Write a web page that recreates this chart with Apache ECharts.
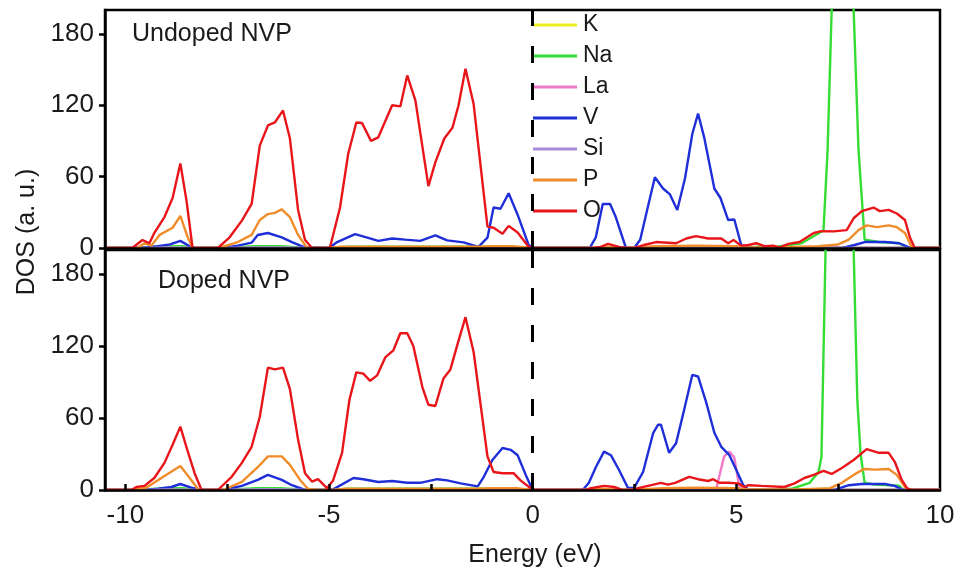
<!DOCTYPE html>
<html>
<head>
<meta charset="utf-8">
<script src="https://cdn.jsdelivr.net/npm/echarts@6/dist/echarts.min.js"></script>
<style>
  html, body { margin: 0; padding: 0; background: #fff; }
  #chart { width: 958px; height: 580px; }
</style>
</head>
<body>
<div id="chart"></div>
<script>
// Projected density of states, energy (eV) vs DOS (a. u.), two stacked panels.
const elements = ['K', 'Na', 'La', 'V', 'Si', 'P', 'O'];
const xTickValues = [-10, -7.5, -5, -2.5, 0, 2.5, 5, 7.5];
const xLabelValues = [-10, -5, 0, 5, 10];
const yLabelValues = [0, 60, 120, 180];

// ---- Undoped NVP ----
const undopedK = [[-10.5,0],[-9.6,0],[-9.0,0.3],[-8.3,0],[-7.6,0],[-6.5,0.4],[-5.5,0],[-5.0,0],[-3.0,0.3],[0,0],[10,0]];
const undopedNa = [[-10.5,0],[-9.8,0],[-9.3,1],[-8.6,1.5],[-8.3,0],[-7.7,0],[-6.8,1.5],[-6.2,1.5],[-5.5,0],[-5,0],[-4.5,1],[-1.5,1],[-0.5,0.5],[0,0],[5.3,0],[5.6,1.5],[6.0,1],[6.6,4],[7.0,12],[7.14,15],[7.24,82],[7.34,200],[7.45,330],[7.75,330],[7.88,200],[8.0,82],[8.15,7],[8.5,5],[9.0,4],[9.2,0],[10,0]];
const undopedLa = [[-10.5,0],[10,0]];
const undopedV = [[-10.5,0],[-9.6,0],[-9.2,1.5],[-8.9,3],[-8.65,6],[-8.4,1],[-8.3,0],[-7.6,0],[-7.24,2],[-6.9,4.5],[-6.75,10.9],[-6.5,12.6],[-6.16,9],[-5.91,5],[-5.6,0.5],[-5.0,0],[-4.8,5],[-4.36,11.7],[-4.06,8.7],[-3.79,6],[-3.45,8],[-3.13,7],[-2.76,6],[-2.39,10.6],[-2.1,6.4],[-1.7,4.7],[-1.33,1],[-1.11,8.7],[-0.96,34],[-0.79,33],[-0.59,46],[-0.37,28],[-0.1,2.5],[0,0],[1.4,0],[1.55,9],[1.72,37],[1.9,37],[2.04,26],[2.29,0],[2.49,0],[2.64,7],[2.81,32],[3.0,59.5],[3.2,50],[3.37,45],[3.55,32],[3.74,58.6],[3.92,96],[4.06,113],[4.21,93],[4.46,50],[4.61,42],[4.8,23.5],[4.95,24],[5.12,2.5],[5.3,0],[7.6,0],[7.9,2.5],[8.15,5],[8.65,5],[9.0,4],[9.24,0.5],[9.35,0],[10,0]];
const undopedSi = [[-10.5,0],[-9.5,0],[-9.0,0.4],[-8.3,0],[-7.6,0],[-6.5,0.5],[-5.5,0],[-5.0,0],[-3.0,0.4],[0,0],[10,0]];
const undopedP = [[-10.5,0],[-9.7,0],[-9.53,4],[-9.36,2],[-9.16,11],[-8.84,17],[-8.65,27],[-8.48,10],[-8.35,0],[-7.7,0],[-7.24,5],[-6.9,11],[-6.7,23.5],[-6.5,28.5],[-6.33,29.5],[-6.16,32.5],[-5.96,26],[-5.76,11],[-5.54,0],[-5.0,0],[-4.7,1],[-1.3,1],[-1.0,1.5],[-0.5,1.5],[0,0],[1.5,0],[1.8,1],[2.2,0],[2.6,0.5],[3.0,1.5],[4.0,2],[5.0,1.5],[5.2,0.5],[6.0,0.5],[7.0,1.5],[7.5,3],[7.76,7],[8.0,15],[8.2,19],[8.45,17.5],[8.74,19],[8.94,17.5],[9.14,12.6],[9.3,1],[9.4,0],[10,0]];
const undopedO = [[-10.5,0],[-9.83,0],[-9.58,6.7],[-9.41,4],[-9.29,12.6],[-9.04,26],[-8.84,42],[-8.65,71],[-8.5,40],[-8.35,0],[-7.73,0],[-7.44,9],[-7.14,23],[-6.9,37],[-6.7,86],[-6.5,103],[-6.33,105.5],[-6.13,115.6],[-5.96,92],[-5.76,32],[-5.59,7],[-5.42,0],[-4.98,0],[-4.73,34],[-4.53,79],[-4.33,105.5],[-4.19,105],[-3.97,90],[-3.79,93],[-3.45,120],[-3.25,119],[-3.08,145],[-2.88,124],[-2.56,52],[-2.39,72],[-2.17,92],[-1.97,101],[-1.82,120],[-1.65,150.7],[-1.45,121],[-1.11,18],[-0.96,17],[-0.74,12],[-0.59,18.6],[-0.37,13],[-0.1,1],[0,0],[1.5,0],[1.67,1],[1.85,3.5],[2.12,1],[2.3,0],[2.5,0],[2.73,2.5],[3.03,5],[3.52,4],[3.77,8],[4.01,10],[4.31,8],[4.63,8],[4.8,4],[4.93,6.7],[5.12,2],[5.3,2.5],[5.49,4],[5.69,1.5],[5.9,2],[6.06,0.5],[6.28,3.5],[6.55,5],[6.9,12.6],[7.09,14.2],[7.39,14],[7.71,15],[7.88,25],[8.08,31],[8.37,34],[8.52,31],[8.74,32],[8.94,29],[9.14,23.5],[9.26,9],[9.38,0],[10,0]];

// ---- Doped NVP ----
const dopedK = [[-10.5,0],[-9.6,0],[-9.0,0.4],[-8.2,0],[-7.6,0],[-6.5,0.5],[-5.5,0],[-5.0,0],[-3.0,0.4],[0,0],[10,0]];
const dopedNa = [[-10.5,0],[-9.8,0],[-9.2,1],[-8.6,1.5],[-8.2,0],[-7.6,0],[-6.8,1.5],[-6.2,1.5],[-5.5,0],[-5,0],[-4.5,1],[-1.5,1],[-0.5,0.5],[0,0],[5.3,0],[6.0,0.5],[6.35,1],[6.8,6],[7.02,15],[7.09,28],[7.19,200],[7.3,330],[7.75,330],[7.88,200],[7.97,75],[8.05,30],[8.15,6],[8.4,4.5],[9.0,3.5],[9.1,0],[10,0]];
const dopedLa = [[-10.5,0],[4.5,0],[4.7,28],[4.83,32],[4.95,27],[5.07,3],[5.2,0],[10,0]];
const dopedV = [[-10.5,0],[-9.5,0],[-9.2,1],[-8.87,2.5],[-8.65,5],[-8.38,2],[-8.13,0],[-7.6,0],[-7.14,3.4],[-6.75,8.4],[-6.5,12.6],[-6.16,8.4],[-5.91,4],[-5.59,0],[-5.0,0],[-4.9,0.5],[-4.4,10],[-4.16,9],[-3.79,6.7],[-3.45,7.5],[-3.08,6],[-2.76,6],[-2.34,9],[-2.1,8],[-1.77,5.5],[-1.35,3],[-1.2,11],[-0.99,25],[-0.74,35],[-0.54,33.5],[-0.37,29],[-0.17,12.6],[0,0],[1.23,0],[1.38,6],[1.55,19],[1.75,32],[1.92,29],[2.12,16.7],[2.34,1.7],[2.49,1.7],[2.71,15],[2.96,47.7],[3.08,54.4],[3.15,54.4],[3.35,31],[3.52,39],[3.72,67],[3.92,96],[4.06,94.6],[4.26,73],[4.46,47.7],[4.63,36],[4.83,29],[5.0,16.7],[5.17,4],[5.3,0],[7.4,0],[7.54,1.5],[7.76,4],[8.08,5],[8.65,5],[8.89,3.4],[9.06,0.5],[9.2,0],[10,0]];
const dopedSi = [[-10.5,0],[-9.5,0],[-9.0,0.5],[-8.2,0],[-7.6,0],[-6.5,0.6],[-5.5,0],[-5.0,0],[-3.0,0.5],[0,0],[10,0]];
const dopedP = [[-10.5,0],[-9.75,0],[-9.46,2.5],[-9.04,11.7],[-8.65,20],[-8.42,10],[-8.2,0],[-7.6,0],[-7.14,6.7],[-6.75,19],[-6.5,28],[-6.16,28],[-5.96,21],[-5.71,8.4],[-5.52,1],[-5.3,0],[-4.9,0],[-4.6,1],[-1.4,1],[-1.0,1.5],[-0.4,1.5],[0,0],[1.3,0],[1.7,1],[2.2,0],[2.6,0.5],[3.2,1.5],[4.0,2],[5.0,1.5],[5.3,0.5],[6.5,0.5],[7.3,1.5],[7.59,6],[7.88,12.6],[8.13,17.5],[8.4,17],[8.74,17.5],[8.94,12.6],[9.14,2.5],[9.25,0],[10,0]];
const dopedO = [[-10.5,0],[-9.85,0],[-9.73,2.5],[-9.53,3.4],[-9.29,10],[-9.04,22.6],[-8.84,37.7],[-8.65,52.8],[-8.48,33.5],[-8.3,14],[-8.13,0],[-7.73,0],[-7.39,11],[-7.14,22.6],[-6.9,36],[-6.7,61],[-6.5,102],[-6.33,100.5],[-6.13,102],[-5.96,84],[-5.76,42],[-5.59,14],[-5.42,7],[-5.27,9],[-5.05,1.5],[-4.9,8],[-4.68,31],[-4.5,75],[-4.33,98],[-4.16,97],[-3.99,91],[-3.82,95.5],[-3.62,110.5],[-3.42,116.4],[-3.25,130.6],[-3.08,130.6],[-2.93,120],[-2.71,86],[-2.56,71],[-2.39,70],[-2.19,93],[-2.02,100.5],[-1.85,121],[-1.65,144],[-1.45,115],[-1.11,28],[-0.96,15],[-0.74,14],[-0.47,14],[-0.3,8],[-0.05,1.5],[0,0],[1.3,0],[1.43,1.5],[1.75,3.4],[2.0,2.5],[2.2,0],[2.4,0],[2.59,1.5],[2.91,4],[3.15,6],[3.32,4.5],[3.5,6],[3.84,11],[4.06,9],[4.31,7.5],[4.43,9],[4.58,6],[4.8,6],[5.05,5.5],[5.2,2.5],[5.3,4],[5.62,3.4],[6.18,2.5],[6.43,5.5],[6.67,10],[6.9,12.6],[7.14,16],[7.34,13.4],[7.59,18.4],[7.88,25],[8.2,34],[8.5,31],[8.74,31],[8.89,23.5],[9.06,8.4],[9.19,1.5],[9.3,0],[10,0]];

const colors = {
  K: '#eeee22', Na: '#33dd33', La: '#f07ac8', V: '#1f2fd8',
  Si: '#a98ad8', P: '#f08c2a', O: '#e8161b'
};
const undoped = { K: undopedK, Na: undopedNa, La: undopedLa, V: undopedV, Si: undopedSi, P: undopedP, O: undopedO };
const doped = { K: dopedK, Na: dopedNa, La: dopedLa, V: dopedV, Si: dopedSi, P: dopedP, O: dopedO };

const FONT = '"Liberation Sans", Arial, Helvetica, sans-serif';
const fermiLine = {
  silent: true,
  symbol: 'none',
  label: { show: false },
  lineStyle: { color: '#000', width: 3, type: [17, 20] },
  data: [{ xAxis: 0 }]
};

const series = [];
[undoped, doped].forEach((panel, gi) => {
  elements.forEach(el => {
    series.push({
      name: el,
      type: 'line',
      xAxisIndex: gi,
      yAxisIndex: gi,
      data: panel[el],
      showSymbol: false,
      symbol: 'none',
      clip: true,
      lineStyle: { color: colors[el], width: 2.4 },
      itemStyle: { color: colors[el] },
      markLine: el === 'O' ? fermiLine : undefined
    });
  });
});

// Axis lines sit above the curves so zero-valued stretches hide under the frame.
function xAxisFor(gi) {
  const bottom = gi === 1;
  return {
    type: 'value', gridIndex: gi, min: -10.5, max: 10, z: 5,
    axisLine: { show: true, onZero: false, lineStyle: { color: '#000', width: 2.5 } },
    splitLine: { show: false },
    axisTick: bottom
      ? { show: true, inside: true, length: 6, customValues: xTickValues, lineStyle: { color: '#000', width: 2.5 } }
      : { show: false },
    axisLabel: bottom
      ? { show: true, customValues: xLabelValues, fontSize: 26, fontFamily: FONT, color: '#1a1a1a', margin: 13 }
      : { show: false }
  };
}
function yAxisFor(gi) {
  return {
    type: 'value', gridIndex: gi, min: 0, max: 200, z: 5,
    axisLine: { show: true, onZero: false, lineStyle: { color: '#000', width: 2.5 } },
    splitLine: { show: false },
    axisTick: { show: true, length: 6, customValues: yLabelValues, lineStyle: { color: '#000', width: 2.5 } },
    axisLabel: { show: true, customValues: yLabelValues, fontSize: 26, fontFamily: FONT, color: '#1a1a1a', margin: 11 }
  };
}

const chart = echarts.init(document.getElementById('chart'), null, { renderer: 'canvas' });
chart.setOption({
  animation: false,
  backgroundColor: '#fff',
  grid: [
    { left: 105, top: 10, width: 835, height: 238, show: true, borderColor: '#000', borderWidth: 2.5, backgroundColor: 'transparent', outerBoundsMode: 'none' },
    { left: 105, top: 250, width: 835, height: 240, show: true, borderColor: '#000', borderWidth: 2.5, backgroundColor: 'transparent', outerBoundsMode: 'none' }
  ],
  xAxis: [xAxisFor(0), xAxisFor(1)],
  yAxis: [yAxisFor(0), yAxisFor(1)],
  legend: {
    data: elements,
    orient: 'vertical',
    left: 533, top: 13,
    padding: 0,
    icon: 'rect',
    itemWidth: 44, itemHeight: 3, itemGap: 7,
    textStyle: { fontSize: 23, fontFamily: FONT, color: '#1a1a1a', lineHeight: 24, padding: [0, 0, 0, 1] },
    selectedMode: false
  },
  graphic: [
    { type: 'text', x: 132, y: 34, silent: true,
      style: { text: 'Undoped NVP', font: '25px ' + FONT, fill: '#1a1a1a', align: 'left', verticalAlign: 'middle', textAlign: 'left', textVerticalAlign: 'middle' } },
    { type: 'text', x: 158, y: 281, silent: true,
      style: { text: 'Doped NVP', font: '25px ' + FONT, fill: '#1a1a1a', align: 'left', verticalAlign: 'middle', textAlign: 'left', textVerticalAlign: 'middle' } },
    { type: 'text', x: 27, y: 232, rotation: Math.PI / 2, silent: true,
      style: { text: 'DOS (a. u.)', font: '25px ' + FONT, fill: '#1a1a1a', align: 'center', verticalAlign: 'middle', textAlign: 'center', textVerticalAlign: 'middle' } },
    { type: 'text', x: 535, y: 555, silent: true,
      style: { text: 'Energy (eV)', font: '25px ' + FONT, fill: '#1a1a1a', align: 'center', verticalAlign: 'middle', textAlign: 'center', textVerticalAlign: 'middle' } }
  ],
  series: series
});
</script>
</body>
</html>
